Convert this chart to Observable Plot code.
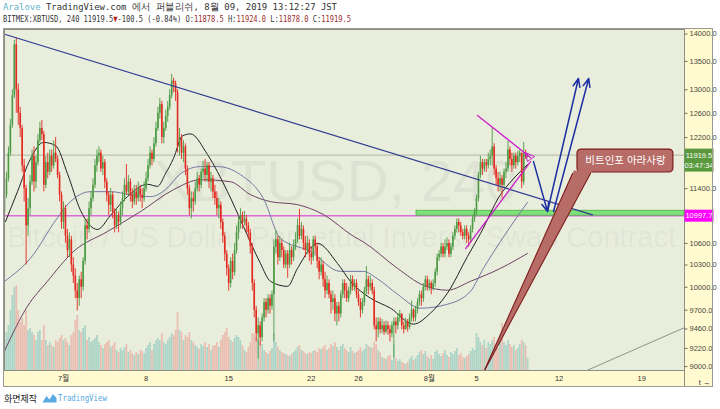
<!DOCTYPE html>
<html lang="ko">
<head>
<meta charset="utf-8">
<script src="https://cdn.jsdelivr.net/npm/d3@7"></script>
<script src="https://cdn.jsdelivr.net/npm/@observablehq/plot@0.6"></script>
<style>
html,body{margin:0;padding:0;background:#fff;}
#page{position:relative;width:720px;height:409px;overflow:hidden;background:#fff;}
.hdr{position:absolute;left:3px;white-space:nowrap;font-family:"DejaVu Sans Mono",monospace;font-size:9.5px;color:#333;transform-origin:0 50%;line-height:12px;}
#h1{top:1px}
#h2{top:13px}
.layer{position:absolute;left:3px;top:28px;width:710px;height:359px;}
#footer{position:absolute;left:4px;top:391px;height:14px;display:flex;align-items:center;font-family:"Noto Sans CJK KR",sans-serif;font-size:9px;color:#222;white-space:nowrap;}
#footer .tv{color:#55a6e2;font-family:"DejaVu Sans Mono",monospace;font-size:9px;display:inline-block;transform:scaleX(0.82);transform-origin:0 50%;}
</style>
</head>
<body>
<div id="page">
  <div id="h1" class="hdr"></div>
  <div id="h2" class="hdr"></div>
  <div id="volLayer" class="layer"></div>
  <div id="priceLayer" class="layer"></div>
  <div id="footer">화면제작&nbsp;<svg width="15" height="10" viewBox="0 0 15 10" style="margin:0 1px 0 2px"><path d="M0.5 9.5 L4.5 3 L7.5 6.5 L11 1 L14.5 5 L14.5 9.5 Z" fill="#5aaae4"/></svg><span class="tv">TradingView</span></div>
</div>
<script>
// ---------------- data ----------------
const symbolName = "BITMEX:XBTUSD";
const intervalLabel = "240";
const startTime = "2019-06-26T00:00:00Z";
const barHours = 4;
const viewEnd = "2019-08-22T15:07:00Z";
const firstOpen = 11050;

const closes = [
11300,11550,11950,12400,12900,13800,
13000,12600,12350,11750,11400,10850,
11100,11500,11900,11500,11800,12150,
12350,12250,11450,11800,11650,11900,
11750,11950,11850,11600,11300,10900,
11100,10700,10500,10650,10300,10150,
9950,9850,10100,10000,10350,10850,
10800,11100,11250,11450,11750,11900,
11950,11700,11800,11500,11300,11150,
11300,11050,10850,11000,10900,11100,
11250,11450,11350,11500,11300,11200,
11350,11250,11400,11300,11250,11400,
11550,11750,11950,11850,12100,12350,
12600,12750,12200,12350,12550,12700,
12900,13150,13100,12950,12050,12200,
11950,12050,11700,11400,11100,11250,
11200,11400,11550,11450,11650,11700,
11600,11750,11500,11550,11350,11250,
11100,11150,10900,10700,10450,10250,
10050,10350,10200,10500,10750,10900,
11000,10900,10950,10850,10750,10550,
10050,9700,9400,9500,9350,9600,
9800,9700,9850,9750,9900,10550,
10650,10400,10600,10500,10300,10450,
10300,10500,10400,10550,10650,10850,
10700,10800,10600,10500,10600,10450,
10400,10650,10550,10350,10200,10300,
10100,9950,10050,9900,9800,9850,
9650,9750,9650,9900,10050,9950,
9850,9950,10100,10000,10050,9900,
9800,9700,9800,9950,10100,10000,
10050,9950,9500,9450,9550,9450,
9500,9420,9500,9450,9400,9500,
9550,9500,9600,9650,9500,9450,
9550,9480,9600,9700,9600,9700,
9800,9900,9850,10000,10100,10000,
10050,9980,10050,10200,10400,10450,
10550,10450,10550,10600,10450,10550,
10700,10800,10900,10850,10750,10700,
10800,10700,10650,10800,10950,11050,
11250,11600,11800,11700,11800,11750,
11850,11900,12050,11700,11550,11450,
11550,11450,11650,11700,12000,11850,
11750,11900,11800,11900,11950,11500,
11950,11878.5,11919.5];

const highs = [
11350,11650,12050,12500,13000,13880,
13920,13100,12700,12400,11850,11450,
11250,11600,12000,12050,11900,12250,
12450,12480,12300,11900,11950,12000,
12000,12150,12200,11900,11650,11350,
11200,11150,10800,10750,10700,10400,
10250,10050,10150,10200,10400,10950,
10950,11200,11350,11550,11850,12000,
12050,12000,11900,11850,11550,11350,
11400,11350,11100,11100,11050,11200,
11350,11550,11770,11600,11550,11400,
11450,11450,11500,11450,11400,11500,
11650,11850,12050,12000,12200,12450,
12700,12850,12800,12450,12650,12800,
13000,13270,13200,13150,13000,12350,
12250,12150,12100,11750,11450,11350,
11350,11500,11650,11600,11700,11820,
11850,11800,11800,11650,11600,11450,
11350,11250,11200,10950,10750,10500,
10300,10400,10450,10600,10850,11000,
11100,11050,11060,11000,10900,10800,
10600,10100,9750,9600,9550,9650,
9850,9850,9900,9900,9950,10650,
10780,10700,10700,10650,10550,10500,
10500,10600,10550,10650,10750,10950,
11090,10900,10850,10700,10700,10650,
10550,10700,10700,10600,10400,10400,
10350,10200,10150,10100,9950,9950,
9900,9800,9800,9950,10100,10100,
10050,10000,10160,10150,10100,10100,
9950,9850,9850,10000,10280,10150,
10150,10100,10000,9600,9600,9600,
9580,9550,9560,9550,9500,9550,
9600,9600,9650,9700,9650,9550,
9600,9580,9650,9820,9720,9750,
9850,9950,9950,10050,10150,10150,
10100,10080,10100,10250,10450,10500,
10600,10600,10650,10680,10650,10600,
10750,10850,10950,10950,10900,10800,
10850,10850,10750,10850,11000,11100,
11300,11650,11900,11850,11850,11850,
11950,12000,12350,12100,11750,11650,
11650,11600,11700,11800,12140,12050,
11950,11950,11950,11980,12000,11950,
12120,12000,11924];

const lows = [
10950,11250,11500,11900,12350,12850,
12600,12400,12200,11650,11200,10300,
10700,11000,11450,11350,11400,11750,
12100,12150,11350,11400,11550,11600,
11650,11700,11800,11550,11200,10800,
10800,10600,10400,10400,10200,10050,
9850,9690,9750,9850,9950,10300,
10650,10750,11000,11200,11400,11650,
11800,11650,11600,11400,11200,11000,
11050,10950,10750,10800,10750,10850,
11000,11200,11300,11300,11200,11100,
11150,11150,11200,11200,11100,11200,
11350,11500,11700,11750,11800,12050,
12300,12500,12100,12100,12300,12450,
12650,12850,12950,12800,11950,11900,
11850,11800,11600,11300,11000,10950,
11050,11150,11350,11350,11400,11550,
11500,11500,11400,11350,11250,11150,
11000,10950,10800,10600,10350,10150,
9950,9990,10100,10150,10450,10650,
10800,10800,10850,10750,10650,10450,
9950,9600,9300,9090,9250,9300,
9550,9600,9650,9650,9700,9300,
10450,10300,10350,10400,10250,10250,
10120,10250,10300,10350,10500,10600,
10650,10650,10500,10400,10450,10350,
10300,10350,10450,10250,10100,10150,
10000,9850,9900,9850,9650,9700,
9550,9500,9550,9600,9850,9850,
9800,9800,9900,9950,9950,9850,
9750,9600,9650,9750,9900,9900,
9950,9900,9450,9300,9350,9400,
9400,9380,9400,9380,9300,9350,
9100,9400,9450,9550,9450,9400,
9450,9420,9450,9550,9550,9550,
9650,9750,9750,9800,9950,9950,
9950,9900,9950,10000,10150,10350,
10400,10400,10400,10500,10400,10400,
10500,10650,10750,10750,10700,10650,
10650,10600,10550,10600,10750,10900,
11000,11200,11550,11600,11650,11650,
11700,11750,11750,11600,11450,11350,
11350,11250,11400,11550,11650,11750,
11650,11700,11700,11750,11800,11400,
11450,11850,11878];

// volume, millions of contracts
const volumes = [
300,380,450,600,750,830,
850,600,480,520,450,600,
400,420,380,350,300,380,
400,300,450,300,250,280,
250,230,300,280,320,350,
300,320,280,250,350,380,
500,550,400,380,420,450,
300,330,280,300,320,350,
280,250,220,260,280,300,
230,250,280,200,180,220,
200,230,260,180,200,170,
150,180,160,200,190,170,
220,250,280,200,260,300,
320,300,370,280,260,300,
330,370,350,400,580,400,
380,300,350,330,380,300,
280,250,230,210,260,240,
280,230,260,200,240,250,
280,230,300,350,380,420,
330,300,280,320,350,330,
300,250,200,180,230,280,
370,360,330,300,280,260,
200,180,160,190,220,370,
280,230,200,180,170,160,
150,140,160,180,200,230,
250,200,190,170,160,180,
170,190,200,180,220,210,
230,250,200,220,260,240,
280,230,200,240,260,220,
200,180,230,190,170,180,
200,230,190,210,260,240,
230,220,280,260,200,180,
130,120,110,140,150,100,
260,120,90,110,80,70,
60,80,110,140,100,120,
150,180,200,160,190,140,
120,150,110,180,200,160,
140,170,200,150,130,180,
160,190,220,150,170,130,
120,140,160,190,220,200,
370,330,280,250,300,220,
280,260,300,330,250,220,
300,470,280,250,300,260,
230,250,200,220,260,300,
280,250,120];

// moving averages (day offset from startTime, price)
const ma20Days = [0.08,1.10,2.20,3.31,4.32,5.34,6.44,7.88,8.98,10.42,12.12,12.97,13.64,14.32,15.08,15.76,17.20,18.90,20.25,21.69,22.54,23.98,24.83,26.53,28.22,29.32,31.02,32.71,34.66,36.10,37.54,39.24,40.34,42.03,43.14,44.32];
const ma20Values = [10910,11354,11860,12122,12072,11628,11076,10798,11001,11279,11466,11435,11628,11866,12227,12260,11929,11354,10841,10322,10079,10012,10254,10600,10322,10079,9856,9726,9522,9662,9922,10418,10740,11309,11552,11771];
const ma50Days = [0,2.46,4.15,5.59,7.29,8.98,10.68,12.37,13.64,14.92,16.61,18.05,20.0,21.95,23.39,25.93,28.47,30.42,31.61,33.31,35.25,37.54,39.49,40.59,42.03,44.32];
const ma50Values = [10079,10446,10884,11205,11354,11354,11309,11279,11384,11628,11739,11739,11613,11249,10669,10487,10213,10213,10113,9908,9726,9777,9947,10254,10627,11193];
const ma100Days = [0,1.95,3.64,5.85,8.73,11.53,14.32,16.61,19.15,20.85,22.54,24.83,27.03,29.58,30.42,33.31,35.51,37.54,39.49,42.03,44.32];
const ma100Values = [9188,9751,10079,10487,10769,11058,11384,11536,11505,11309,11205,11160,11014,10700,10620,10254,10026,9961,10079,10254,10459];

// axis ticks
const yTicks = [14000,13500,13000,12600,12200,11400,10600,10300,10000,9700,9460,9220,9000];
const xTickDates = ["2019-07-01","2019-07-08","2019-07-15","2019-07-22","2019-07-26","2019-08-01","2019-08-05","2019-08-12","2019-08-19"];
const xTickLabels = ["7월","8","15","22","26","8월","5","12","19"];

// header values
const publishedBy = "Aralove";
const publishedText = "TradingView.com 에서 퍼블리쉬, 8월 09, 2019 13:12:27 JST";
const dayChange = -100.5;
const dayChangePct = -0.84;
const countdown = "03:47:34";
const supportLevel = 10997.7;

// drawings (time, price)
const trendTimes = ["2019-06-26T02:00Z","2019-08-14T20:00Z"];
const trendPrices = [13990, 11010];
const wedgeUpperTimes = ["2019-08-05T02:00Z","2019-08-09T14:00Z"];
const wedgeUpperPrices = [12564, 11882];
const wedgeLowerTimes = ["2019-08-04T02:00Z","2019-08-09T14:00Z"];
const wedgeLowerPrices = [10528, 11817];
const apexTimes = ["2019-08-09T03:40Z","2019-08-09T22:00Z","2019-08-09T07:40Z","2019-08-09T03:40Z"];
const apexPrices = [11960, 11897, 11818, 11960];
const arrowFromTimes = ["2019-08-09T20:00Z","2019-08-11T00:30Z","2019-08-11T12:40Z"];
const arrowFromPrices = [11817, 11059, 11059];
const arrowToTimes = ["2019-08-11T00:30Z","2019-08-13T15:20Z","2019-08-14T12:15Z"];
const arrowToPrices = [11059, 13197, 13197];
const zoneStart = "2019-07-30T22:00Z";
const zoneLow = 10997.7, zoneHigh = 11070;
const grayTimes = ["2019-08-13T19:30Z","2019-08-22T15:07Z"];
const grayPrices = [8920, 9478];
const calloutText = "비트인포 아라사랑";
const calloutStart = "2019-08-13T13:30Z", calloutEnd = "2019-08-21T16:30Z";
const calloutLow = 11647, calloutHigh = 12008;
const calloutTextTime = "2019-08-17T15:00Z", calloutTextPrice = 11826;
const tailTimes = ["2019-08-05T14:10Z","2019-08-13T06:00Z","2019-08-14T19:10Z","2019-08-05T14:10Z"];
const tailPrices = [8929, 11678, 11678, 8929];
const tailEdgeTimes = [["2019-08-05T14:10Z","2019-08-13T03:20Z"],["2019-08-05T14:10Z","2019-08-14T15:50Z"]];
const tailEdgePrices = [[8929, 11631],[8929, 11631]];

// ---------------- build ----------------
const t0 = new Date(startTime).getTime();
const DAY = 86400e3;
const bars = closes.map((c, i) => {
  const o = i === 0 ? firstOpen : closes[i - 1];
  return {t: new Date(t0 + i * barHours * 3600e3), o, c, h: highs[i], l: lows[i], v: volumes[i], up: c >= o};
});
const last = bars[bars.length - 1];
const lastPrice = last.c;
const UP = "#4c9a44", DOWN = "#e3291f";
const xDomain = [new Date(startTime), new Date(viewEnd)];
const yDomain = [8953, 14084];
const W = 710, H = 359;
const M = {marginLeft: 1, marginRight: 29, marginTop: 1, marginBottom: 17};
const FONT = "'Liberation Sans','Noto Sans CJK KR',sans-serif";

const pts = (times, prices) => times.map((t, i) => ({t: new Date(t), p: prices[i]}));
const maSeries = (days, vals) => days.map((d, i) => ({t: new Date(t0 + d * DAY), p: vals[i]}));
const labelMap = new Map(xTickDates.map((d, i) => [+new Date(d), xTickLabels[i]]));

// header text
const f1 = v => v.toFixed(1);
document.getElementById("h1").innerHTML = `<span style="color:#5fb2c9">${publishedBy}</span> ${publishedText}`;
document.getElementById("h2").innerHTML =
  `${symbolName}, ${intervalLabel} ${lastPrice}<span style="color:#c0211b">▼</span>${dayChange} (${dayChangePct.toFixed(2)}%) ` +
  `O:<span style="color:#9b2b2b">${f1(last.o)}</span> H:<span style="color:#9b2b2b">${f1(last.h)}</span> ` +
  `L:<span style="color:#9b2b2b">${f1(last.l)}</span> C:<span style="color:#9b2b2b">${f1(last.c)}</span>`;
[["h1", 334], ["h2", 348]].forEach(([id, target]) => {
  const el = document.getElementById(id);
  const w = el.getBoundingClientRect().width;
  el.style.transform = `scaleX(${target / w})`;
});

// bottom layer: background, watermark, volume
const volPlot = Plot.plot({
  width: W, height: H, ...M,
  x: {type: "utc", domain: xDomain, axis: null},
  y: {domain: [0, 3410], axis: null},
  color: {type: "identity"},
  style: {background: "#fffad0", fontFamily: FONT},
  marks: [
    Plot.frame({fill: "#e8eddc"}),
    Plot.text(["XBTUSD, 240"], {text: d => d, frameAnchor: "middle", dx: -9, dy: -18, fontSize: 58, fill: "#000", fillOpacity: 0.045}),
    Plot.text(["Bitcoin / US Dollar Perpetual Inverse Swap Contract"], {text: d => d, frameAnchor: "middle", dx: -3, dy: 38, fontSize: 29, fill: "#000", fillOpacity: 0.045}),
    Plot.ruleX(bars, {x: "t", y1: 0, y2: "v", stroke: d => d.up ? "#2aa39a" : "#ee5a55", strokeOpacity: 0.32, strokeWidth: 1.7})
  ]
});
document.getElementById("volLayer").appendChild(volPlot);

// shapes drawn beside the price scale
const boxSymbol = (top, bottom) => ({draw(ctx) { ctx.moveTo(0, top); ctx.lineTo(29, top); ctx.lineTo(29, bottom); ctx.lineTo(0, bottom); ctx.closePath(); }});
const tickSymbol = {draw(ctx) { ctx.moveTo(0, 0); ctx.lineTo(3, 0); }};

const pricePlot = Plot.plot({
  width: W, height: H, ...M,
  x: {type: "utc", domain: xDomain},
  y: {type: "log", domain: yDomain, axis: null},
  color: {type: "identity"},
  style: {background: "transparent", fontFamily: FONT, overflow: "visible"},
  marks: [
    Plot.ruleY([lastPrice], {stroke: "#a3a993", strokeWidth: 0.8}),
    Plot.ruleY([supportLevel], {stroke: "#dc6ad8", strokeWidth: 1.6}),
    Plot.rect([{}], {x1: () => new Date(zoneStart), x2: () => xDomain[1], y1: () => zoneLow, y2: () => zoneHigh, fill: "#7fe279", stroke: "#52b24a", strokeWidth: 0.8}),
    Plot.line(maSeries(ma100Days, ma100Values), {x: "t", y: "p", stroke: "#6b4462", strokeWidth: 1, curve: "monotone-x"}),
    Plot.line(maSeries(ma50Days, ma50Values), {x: "t", y: "p", stroke: "#7378a6", strokeWidth: 1, curve: "monotone-x"}),
    Plot.line(maSeries(ma20Days, ma20Values), {x: "t", y: "p", stroke: "#222", strokeWidth: 1, curve: "monotone-x"}),
    Plot.ruleX(bars, {x: "t", y1: "l", y2: "h", stroke: d => d.up ? UP : DOWN, strokeWidth: 0.9}),
    Plot.ruleX(bars, {x: "t", y1: "o", y2: "c", stroke: d => d.up ? UP : DOWN, strokeWidth: 1.6}),
    Plot.line(pts(trendTimes, trendPrices), {x: "t", y: "p", stroke: "#2f3c93", strokeWidth: 1.2}),
    Plot.line(pts(wedgeUpperTimes, wedgeUpperPrices), {x: "t", y: "p", stroke: "#cc1fcc", strokeWidth: 1.3}),
    Plot.line(pts(wedgeLowerTimes, wedgeLowerPrices), {x: "t", y: "p", stroke: "#cc1fcc", strokeWidth: 1.3}),
    Plot.line(pts(apexTimes, apexPrices), {x: "t", y: "p", stroke: "#cc1fcc", strokeWidth: 1}),
    Plot.arrow(arrowFromTimes.map((t, i) => i), {
      x1: i => new Date(arrowFromTimes[i]), y1: i => arrowFromPrices[i],
      x2: i => new Date(arrowToTimes[i]), y2: i => arrowToPrices[i],
      stroke: "#1e2fa3", strokeWidth: 1.5, headLength: 9, headAngle: 45
    }),
    Plot.line(pts(grayTimes, grayPrices), {x: "t", y: "p", stroke: "#7b7b72", strokeWidth: 0.8, clip: true}),
    Plot.rect([{}], {x1: () => new Date(calloutStart), x2: () => new Date(calloutEnd), y1: () => calloutLow, y2: () => calloutHigh, rx: 4, fill: "#b76c67", stroke: "#7d1c1c", strokeWidth: 1.2}),
    Plot.line(pts(tailTimes, tailPrices), {x: "t", y: "p", fill: "#b76c67", stroke: "none", clip: true}),
    ...tailEdgeTimes.map((tt, k) => Plot.line(pts(tt, tailEdgePrices[k]), {x: "t", y: "p", stroke: "#7d1c1c", strokeWidth: 1.1, clip: true})),
    Plot.text([calloutText], {x: () => new Date(calloutTextTime), y: () => calloutTextPrice, text: d => d, fill: "white", fontSize: 10.5, fontFamily: "'Noto Sans CJK KR',sans-serif"}),
    Plot.frame({stroke: "#8e8e84"}),
    Plot.ruleX([xDomain[1]], {stroke: "#8e8e84", insetBottom: -17}),
    // price scale (right)
    Plot.dot(yTicks, {y: d => d, frameAnchor: "right", symbol: tickSymbol, stroke: "#4a4a40", fill: "none", strokeWidth: 0.8}),
    Plot.text(yTicks, {y: d => d, text: d => d.toFixed(1), frameAnchor: "right", dx: 5, textAnchor: "start", fontSize: 7.5, fill: "#4a4a40"}),
    Plot.axisX({ticks: xTickDates.map(d => new Date(d)), tickFormat: d => labelMap.get(+d), tickSize: 0, tickPadding: 5, fontSize: 7.5, color: "#333"}),
    Plot.dot([lastPrice], {y: d => d, frameAnchor: "right", symbol: boxSymbol(-6.5, 16.5), fill: "#5a9a3c", stroke: "none"}),
    Plot.text([lastPrice], {y: d => d, text: d => d.toFixed(1), frameAnchor: "right", dx: 14.5, textAnchor: "middle", fill: "white", fontSize: 7.5}),
    Plot.text([lastPrice], {y: d => d, text: () => countdown, frameAnchor: "right", dx: 14.5, dy: 10.5, textAnchor: "middle", fill: "white", fontSize: 7.5}),
    Plot.dot([supportLevel], {y: d => d, frameAnchor: "right", symbol: boxSymbol(-6, 6), fill: "#ff00ff", stroke: "none"}),
    Plot.text([supportLevel], {y: d => d, text: d => d.toFixed(1), frameAnchor: "right", dx: 14.5, textAnchor: "middle", fill: "white", fontSize: 7.5})
  ]
});
pricePlot.style.outline = "1px solid #9a9a92";
pricePlot.style.outlineOffset = "-1px";
document.getElementById("priceLayer").appendChild(pricePlot);
</script>
</body>
</html>
